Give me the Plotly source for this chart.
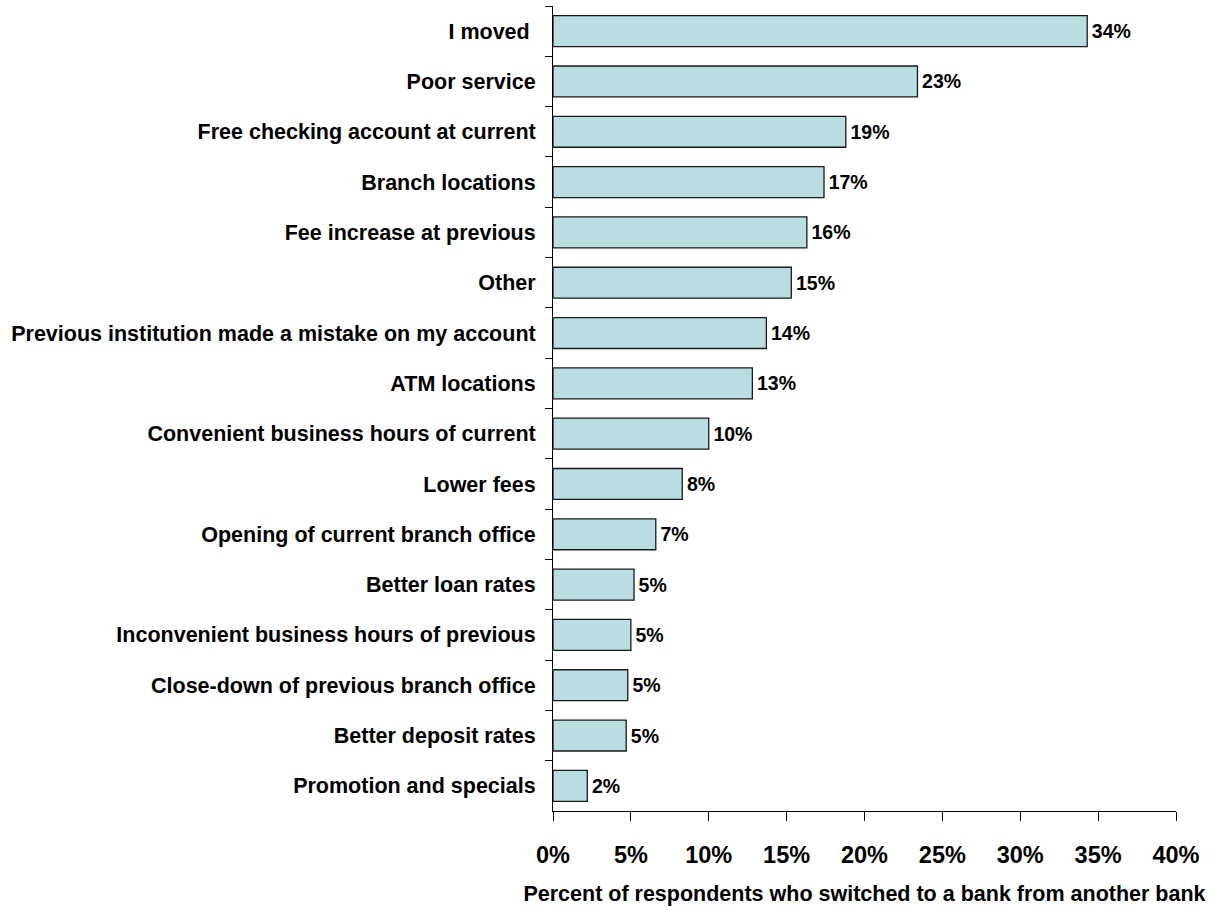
import plotly.graph_objects as go

# Reasons for switching banks, listed top to bottom
reasons = [
    "I moved\u00a0",
    "Poor service",
    "Free checking account at current",
    "Branch locations",
    "Fee increase at previous",
    "Other",
    "Previous institution made a mistake on my account",
    "ATM locations",
    "Convenient business hours of current",
    "Lower fees",
    "Opening of current branch office",
    "Better loan rates",
    "Inconvenient business hours of previous",
    "Close-down of previous branch office",
    "Better deposit rates",
    "Promotion and specials",
]

# Share of respondents (%)
shares = [34.3, 23.4, 18.8, 17.4, 16.3, 15.3, 13.7, 12.8,
          10.0, 8.3, 6.6, 5.2, 5.0, 4.8, 4.7, 2.2]

x_ticks = [0, 5, 10, 15, 20, 25, 30, 35, 40]
x_title = "Percent of respondents who switched to a bank from another bank"

FONT = "Arial, 'Liberation Sans', sans-serif"

fig = go.Figure(
    go.Bar(
        x=shares,
        y=reasons,
        orientation="h",
        marker=dict(color="#B9DDE0", line=dict(color="#1a1a1a", width=1.3)),
        texttemplate="\u200a%{x:.0f}%",
        textposition="outside",
        textfont=dict(family=FONT, size=19.5, color="black", weight="bold"),
        cliponaxis=False,
        hoverinfo="skip",
    )
)

fig.update_layout(
    width=1225,
    height=907,
    margin=dict(l=553, r=49, t=6, b=93),
    paper_bgcolor="white",
    plot_bgcolor="white",
    bargap=0.386,
    showlegend=False,
    font=dict(family=FONT, color="black"),
)

fig.update_xaxes(
    range=[0, 40],
    tickvals=x_ticks,
    ticktext=[f"{v}%" for v in x_ticks],
    ticks="outside",
    ticklen=9,
    tickwidth=1,
    tickcolor="black",
    showline=True,
    linecolor="black",
    linewidth=1,
    showgrid=False,
    zeroline=False,
    ticklabelstandoff=14,
    tickfont=dict(family=FONT, size=23.5, color="black", weight="bold"),
    title=dict(
        text=x_title,
        font=dict(family=FONT, size=21.5, color="black", weight="bold"),
        standoff=18,
    ),
)

fig.update_yaxes(
    type="category",
    autorange="reversed",
    tickson="boundaries",
    ticks="outside",
    ticklen=7,
    tickwidth=1,
    tickcolor="black",
    showline=True,
    linecolor="black",
    linewidth=1,
    showgrid=False,
    zeroline=False,
    ticklabelstandoff=12,
    tickfont=dict(family=FONT, size=21.5, color="black", weight="bold"),
)

fig.write_html("out.html")
